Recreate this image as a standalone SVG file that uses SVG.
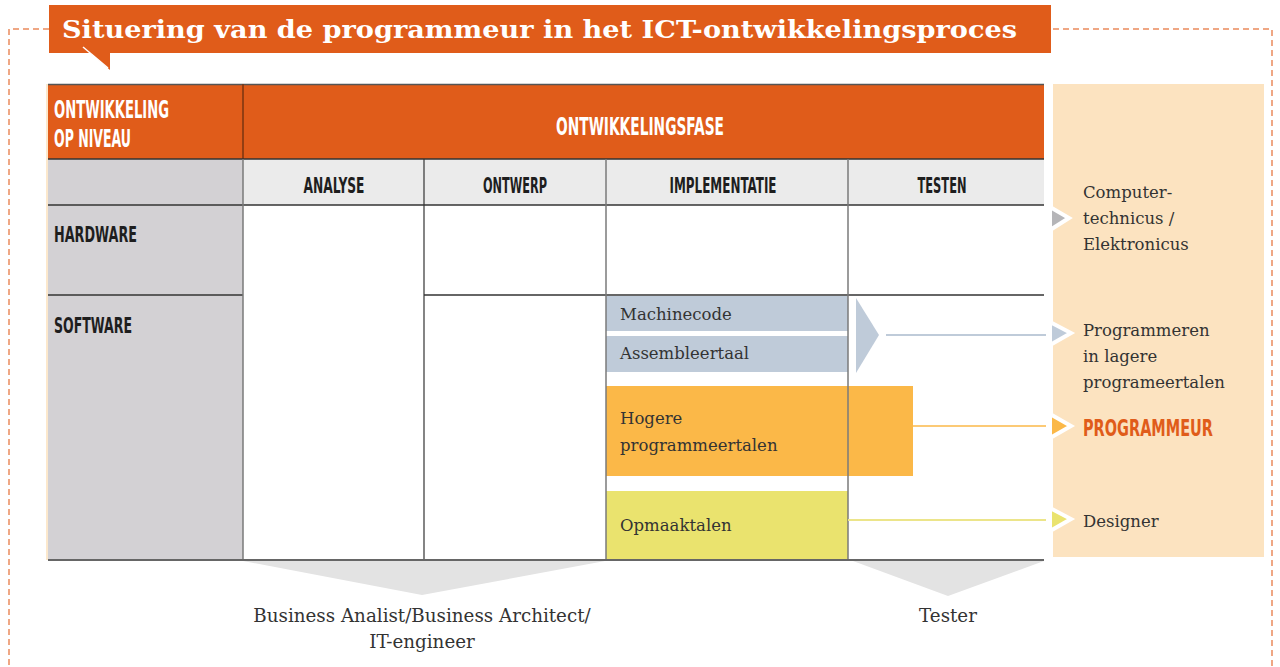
<svg xmlns="http://www.w3.org/2000/svg" width="1280" height="667" viewBox="0 0 1280 667">
<style>
.hd{font-family:"DejaVu Sans Condensed","Liberation Sans Narrow","DejaVu Sans",sans-serif;font-weight:bold;}
.hw{fill:#ffffff;font-size:24px;}
.hb{fill:#1e1e1e;font-size:22px;}
.sf{font-family:"DejaVu Serif","Liberation Serif",serif;fill:#333333;font-size:16.5px;}
.sb{font-size:18.3px;}
.vl{stroke:#7a7a7a;stroke-width:1.5;fill:none;}
.hl{stroke:#333333;stroke-width:1.5;fill:none;}
.dash{stroke:#ea8a5c;stroke-width:1.5;stroke-dasharray:6,4;fill:none;}
.tip{stroke:#ffffff;stroke-width:4;stroke-linejoin:miter;}
</style>
<rect width="1280" height="667" fill="#ffffff"/>
<!-- dashed frame -->
<g id="frame">
<path class="dash" d="M49,29 H9 V667"/>
<path class="dash" d="M1053,29 H1272 V667"/>
</g>
<!-- title banner -->
<g id="title">
<rect x="49" y="5" width="1002" height="48" fill="#e05c1a"/>
<polygon points="89,52 110,52 110,70" fill="#e05c1a"/>
<line x1="83" y1="47" x2="108" y2="68" stroke="#ffffff" stroke-width="1.5"/>
<text x="62" y="38" font-family="DejaVu Serif,Liberation Serif,serif" font-weight="bold" font-size="24" fill="#ffffff" textLength="955" lengthAdjust="spacingAndGlyphs">Situering van de programmeur in het ICT-ontwikkelingsproces</text>
</g>
<!-- right panel -->
<g id="roles-panel">
<rect x="1053" y="84" width="211" height="473" fill="#fce3c0"/>
</g>
<!-- table -->
<g id="table">
<line x1="47" y1="84" x2="47" y2="560" stroke="#fbe1bb" stroke-width="1.5"/>
<rect x="48" y="84" width="996" height="75" fill="#e05c1a"/>
<rect x="48" y="159" width="195" height="401" fill="#d3d1d4"/>
<rect x="243" y="159" width="801" height="46" fill="#ebebeb"/>
<rect x="243" y="205" width="801" height="355" fill="#ffffff"/>
<line x1="48" y1="84.5" x2="1044" y2="84.5" stroke="#555555" stroke-width="1.5"/>
<line x1="243" y1="84" x2="243" y2="159" stroke="#7a3510" stroke-width="1.5"/>
</g>
<g id="cell-machinecode">
<rect x="606" y="296" width="242" height="35" fill="#bfcbd9"/>
<text class="sf" x="620" y="320">Machinecode</text>
</g>
<g id="cell-assembleertaal">
<rect x="606" y="336" width="242" height="36" fill="#bfcbd9"/>
<text class="sf" x="620" y="359">Assembleertaal</text>
</g>
<g id="cell-hogere">
<rect x="606" y="386" width="307" height="90" fill="#fbb848"/>
<text class="sf" x="620" y="424">Hogere</text>
<text class="sf" x="620" y="451">programmeertalen</text>
</g>
<g id="cell-opmaaktalen">
<rect x="606" y="491" width="242" height="69" fill="#eae36e"/>
<text class="sf" x="620" y="531">Opmaaktalen</text>
</g>
<g id="grid">
<line class="hl" x1="48" y1="159" x2="1044" y2="159"/>
<line class="hl" x1="48" y1="205" x2="1044" y2="205"/>
<line class="hl" x1="48" y1="295" x2="243" y2="295"/>
<line class="hl" x1="424" y1="295" x2="1044" y2="295"/>
<line class="vl" x1="243" y1="159" x2="243" y2="560"/>
<line x1="424" y1="159" x2="424" y2="560" stroke="#333" stroke-width="1.2"/>
<line class="vl" x1="606" y1="159" x2="606" y2="560"/>
<line class="vl" x1="848" y1="159" x2="848" y2="560"/>
<line x1="48" y1="560" x2="1044" y2="560" stroke="#666666" stroke-width="2"/>
</g>
<g id="headers">
<text class="hd hw" x="54" y="118" textLength="115" lengthAdjust="spacingAndGlyphs">ONTWIKKELING</text>
<text class="hd hw" x="54" y="147" textLength="77" lengthAdjust="spacingAndGlyphs">OP NIVEAU</text>
<text class="hd hw" x="640" y="135" text-anchor="middle" textLength="168" lengthAdjust="spacingAndGlyphs">ONTWIKKELINGSFASE</text>
<text class="hd hb" x="334" y="193" text-anchor="middle" textLength="61" lengthAdjust="spacingAndGlyphs">ANALYSE</text>
<text class="hd hb" x="515" y="193" text-anchor="middle" textLength="64" lengthAdjust="spacingAndGlyphs">ONTWERP</text>
<text class="hd hb" x="723" y="193" text-anchor="middle" textLength="107" lengthAdjust="spacingAndGlyphs">IMPLEMENTATIE</text>
<text class="hd hb" x="942" y="193" text-anchor="middle" textLength="49" lengthAdjust="spacingAndGlyphs">TESTEN</text>
<text class="hd hb" x="54" y="242" textLength="83" lengthAdjust="spacingAndGlyphs">HARDWARE</text>
<text class="hd hb" x="54" y="333" textLength="78" lengthAdjust="spacingAndGlyphs">SOFTWARE</text>
</g>
<!-- connectors -->
<g id="connectors">
<polygon points="856,298 879,335 856,373" fill="#bfcbd9"/>
<line x1="886" y1="335" x2="1046" y2="335" stroke="#bfcbd9" stroke-width="2"/>
<line x1="913" y1="426" x2="1046" y2="426" stroke="#fbb848" stroke-width="1.5"/>
<line x1="848" y1="520" x2="1046" y2="520" stroke="#ece58a" stroke-width="2"/>
<polygon class="tip" points="1050,207 1069,218 1050,230" fill="#b5b5b8"/>
<polygon class="tip" points="1050,322 1071,333 1050,345" fill="#bfcbd9"/>
<polygon class="tip" points="1050,414 1071,426 1050,438" fill="#fbb848"/>
<polygon class="tip" points="1050,508 1071,519 1050,531" fill="#eae36e"/>
<polygon points="243,561 605,561 422,595" fill="#e3e3e3"/>
<polygon points="853,561 1044,561 948,596" fill="#e3e3e3"/>
</g>
<g id="role-hardware">
<text class="sf" x="1083" y="198">Computer-</text>
<text class="sf" x="1083" y="224">technicus /</text>
<text class="sf" x="1083" y="250">Elektronicus</text>
</g>
<g id="role-lager">
<text class="sf" x="1083" y="336">Programmeren</text>
<text class="sf" x="1083" y="362">in lagere</text>
<text class="sf" x="1083" y="388">programeertalen</text>
</g>
<g id="role-programmeur">
<text class="hd" x="1083" y="436" font-size="23" fill="#e05c1a" textLength="130" lengthAdjust="spacingAndGlyphs">PROGRAMMEUR</text>
</g>
<g id="role-designer">
<text class="sf" x="1083" y="527">Designer</text>
</g>
<g id="role-analist">
<text class="sf sb" x="422" y="622" text-anchor="middle">Business Analist/Business Architect/</text>
<text class="sf sb" x="422" y="648" text-anchor="middle">IT-engineer</text>
</g>
<g id="role-tester">
<text class="sf sb" x="948" y="622" text-anchor="middle">Tester</text>
</g>
</svg>
